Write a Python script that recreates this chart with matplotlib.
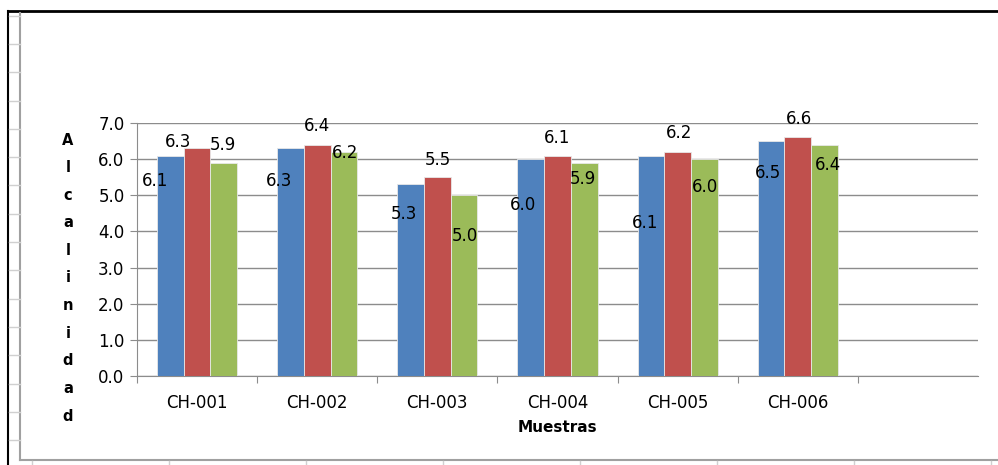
import matplotlib
matplotlib.use('agg')
import matplotlib.pyplot as plt
from matplotlib.lines import Line2D
import numpy as np

# chart data
muestras = ["CH-001", "CH-002", "CH-003", "CH-004", "CH-005", "CH-006"]
serie_1 = [6.1, 6.3, 5.3, 6.0, 6.1, 6.5]
serie_2 = [6.3, 6.4, 5.5, 6.1, 6.2, 6.6]
serie_3 = [5.9, 6.2, 5.0, 5.9, 6.0, 6.4]
y_ticks = [0.0, 1.0, 2.0, 3.0, 4.0, 5.0, 6.0, 7.0]

# label offsets in pixels (dx, dy) relative to bar top centre, as placed in the original
off_1 = [(-15, -25), (-11, -33), (-7, -30), (-8, -46), (-6, -67), (-3, -32)]
off_2 = [(-19, 6), (0, 19), (1, 17), (0, 18), (1, 19), (1, 18)]
off_3 = [(-1, 18), (1, -1), (1, -41), (-1, -16), (1, -28), (4, -20)]

colors = ["#4F81BD", "#C0504D", "#9BBB59"]
grid_col = "#8c8c8c"
fs = 12

fig = plt.figure(figsize=(9.98, 4.65), dpi=100)
ax = fig.add_axes([137 / 998, 1 - 376 / 465, (978 - 137) / 998, (376 - 123) / 465])

n_slots = 7
x = np.arange(len(muestras))
w = 0.222
for k, (vals, offs) in enumerate([(serie_1, off_1), (serie_2, off_2), (serie_3, off_3)]):
    pos = x + (k - 1) * w
    ax.bar(pos, vals, width=w, color=colors[k], edgecolor="#e8e8e8", linewidth=0.6, zorder=3)
    for xi, v, (dx, dy) in zip(pos, vals, offs):
        ax.annotate(f"{v:.1f}", (xi, v), xytext=(dx, dy), textcoords="offset pixels",
                    ha="center", va="center", fontsize=fs, color="black", zorder=4)

ax.set_xlim(-0.5, n_slots - 0.5)
ax.set_ylim(0, 7)
ax.set_yticks(y_ticks)
ax.set_yticklabels([f"{t:.1f}" for t in y_ticks], fontsize=fs)
ax.set_xticks(np.arange(n_slots) - 0.5, minor=False)
ax.set_xticklabels([])
ax.set_xticks(x, minor=True)
ax.set_xticklabels(muestras, minor=True, fontsize=fs)
ax.tick_params(axis="x", which="minor", length=0, pad=13)
ax.tick_params(axis="x", which="major", length=5, color=grid_col, direction="out")
ax.tick_params(axis="y", length=5, color=grid_col, direction="out", pad=4)
ax.grid(axis="y", color=grid_col, linewidth=1.0, zorder=0)
for s in ["top", "right"]:
    ax.spines[s].set_visible(False)
ax.spines["left"].set_color(grid_col)
ax.spines["bottom"].set_color(grid_col)
ax.set_axisbelow(True)

ax.set_xlabel("Muestras", fontsize=11, fontweight="bold", labelpad=6)
fig.text(68 / 998, 1 - 278 / 465, "\n".join("Alcalinidad"), ha="center", va="center",
         fontsize=10.5, fontweight="bold", linespacing=2.05)

# outer frames
fig.add_artist(Line2D([8 / 998, 1], [1 - 11 / 465] * 2, color="black", lw=2))
fig.add_artist(Line2D([8 / 998] * 2, [0, 1 - 11 / 465], color="black", lw=1.5))
fig.add_artist(Line2D([20 / 998] * 2, [1 - 460 / 465, 1 - 13 / 465], color="#a0a0a0", lw=1.5))
fig.add_artist(Line2D([20 / 998, 1], [1 - 460 / 465] * 2, color="#a0a0a0", lw=1.5))
for yy in np.arange(15.7, 460, 28.3):
    fig.add_artist(Line2D([9 / 998, 20 / 998], [1 - yy / 465] * 2, color="#d0d0d0", lw=1))
for xx in np.arange(32, 998, 137):
    fig.add_artist(Line2D([xx / 998] * 2, [0, 1 - 461 / 465], color="#d0d0d0", lw=1))

fig.savefig("out.png", dpi=100)
